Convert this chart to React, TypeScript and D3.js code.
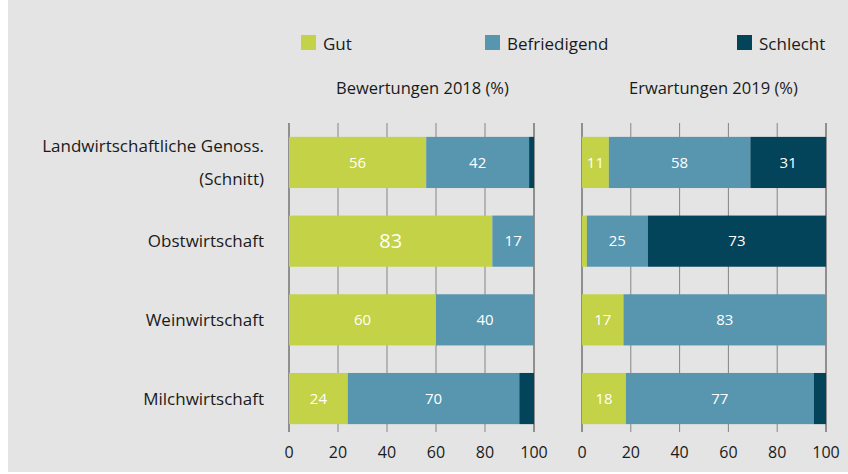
import React, { useEffect, useRef } from 'react';
import * as d3 from 'd3';

const categories = ['Landwirtschaftliche Genoss. (Schnitt)', 'Obstwirtschaft', 'Weinwirtschaft', 'Milchwirtschaft'];
const categoryLines = [['Landwirtschaftliche Genoss.', '(Schnitt)'], ['Obstwirtschaft'], ['Weinwirtschaft'], ['Milchwirtschaft']];
const seriesNames = ['Gut', 'Befriedigend', 'Schlecht'];
const colors = ['#c3d247', '#5895ae', '#03445a'];

// values per category: [Gut, Befriedigend, Schlecht]
const bewertungen2018 = [
  [56, 42, 2],
  [83, 17, 0],
  [60, 40, 0],
  [24, 70, 6],
];
const erwartungen2019 = [
  [11, 58, 31],
  [2, 25, 73],
  [17, 83, 0],
  [18, 77, 5],
];
const panelTitles = ['Bewertungen 2018 (%)', 'Erwartungen 2019 (%)'];
const ticks = [0, 20, 40, 60, 80, 100];

const App = () => {
  const svgRef = useRef(null);
  const width = 848;
  const height = 474;

  useEffect(() => {
    const svg = d3.select(svgRef.current);
    svg.selectAll('*').remove();
    const font = "'Open Sans', sans-serif";
    const ink = '#1a1a1a';

    svg.append('rect')
      .attr('x', 8).attr('y', 0)
      .attr('width', width - 8).attr('height', 472)
      .attr('fill', '#e4e4e4');

    const y = d3.scaleBand()
      .domain(categories)
      .range([129, 432])
      .paddingInner(0.35)
      .paddingOuter(0.1);

    const panels = [
      { data: bewertungen2018, x0: 289, x1: 534, title: panelTitles[0] },
      { data: erwartungen2019, x0: 582, x1: 826, title: panelTitles[1] },
    ];

    panels.forEach((p, pi) => {
      const x = d3.scaleLinear().domain([0, 100]).range([p.x0, p.x1]);
      const g = svg.append('g');

      // gridlines
      g.selectAll('line.grid')
        .data(ticks)
        .enter()
        .append('line')
        .attr('x1', d => x(d)).attr('x2', d => x(d))
        .attr('y1', 123).attr('y2', 432)
        .attr('stroke', d => (d === 0 || d === 100) ? '#3a3a3a' : '#858585')
        .attr('stroke-width', 1);

      // bars
      p.data.forEach((vals, i) => {
        let acc = 0;
        vals.forEach((v, j) => {
          const start = acc;
          acc += v;
          if (v <= 0) return;
          g.append('rect')
            .attr('x', x(start))
            .attr('y', y(categories[i]))
            .attr('width', x(acc) - x(start))
            .attr('height', y.bandwidth())
            .attr('fill', colors[j]);
          if (v >= 10) {
            const big = pi === 0 && i === 1 && j === 0;
            g.append('text')
              .attr('x', (x(start) + x(acc)) / 2)
              .attr('y', y(categories[i]) + y.bandwidth() / 2)
              .attr('dy', '0.35em')
              .attr('text-anchor', 'middle')
              .attr('fill', '#ffffff')
              .style('font-family', font)
              .style('font-size', big ? '20px' : '15px')
              .text(v);
          }
        });
      });

      // axis labels
      g.selectAll('text.tick')
        .data(ticks)
        .enter()
        .append('text')
        .attr('x', d => x(d))
        .attr('y', 458)
        .attr('text-anchor', 'middle')
        .attr('fill', ink)
        .style('font-family', font)
        .style('font-size', '16px')
        .text(d => d);

      // panel title
      g.append('text')
        .attr('x', p.x0 + 47)
        .attr('y', 94)
        .attr('text-anchor', 'start')
        .attr('fill', ink)
        .style('font-family', font)
        .style('font-size', '16.5px')
        .text(p.title);
    });

    // category labels
    categories.forEach((c, i) => {
      const lines = categoryLines[i];
      const cy = y(c) + y.bandwidth() / 2;
      const lh = 33;
      lines.forEach((l, k) => {
        svg.append('text')
          .attr('x', 264)
          .attr('y', cy + (k - (lines.length - 1) / 2) * lh)
          .attr('dy', '0.35em')
          .attr('text-anchor', 'end')
          .attr('fill', ink)
          .style('font-family', font)
          .style('font-size', '17px')
          .text(l);
      });
    });

    // legend
    const legendX = [301, 485, 737];
    seriesNames.forEach((s, i) => {
      svg.append('rect')
        .attr('x', legendX[i]).attr('y', 35)
        .attr('width', 15).attr('height', 15)
        .attr('fill', colors[i]);
      svg.append('text')
        .attr('x', legendX[i] + 22)
        .attr('y', 50)
        .attr('fill', ink)
        .style('font-family', font)
        .style('font-size', '17px')
        .text(s);
    });
  }, []);

  return (
    <div style={{ position: 'absolute', left: 0, top: 0 }}>
      <svg ref={svgRef} width={width} height={height} style={{ display: 'block' }}></svg>
    </div>
  );
};

export default App;
